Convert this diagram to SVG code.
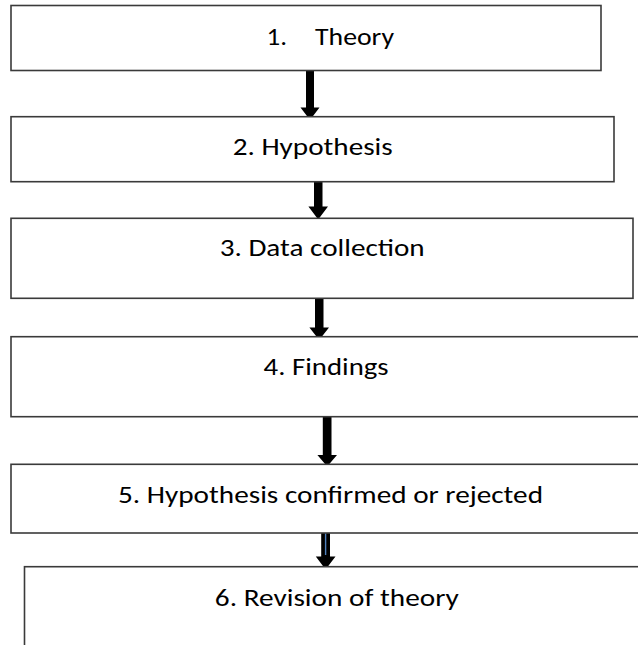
<svg xmlns="http://www.w3.org/2000/svg" width="638" height="645" viewBox="0 0 638 645">
  <style>
    .box { fill: #ffffff; stroke: #3a3a3a; stroke-width: 1.6; }
    .label { font-family: Carlito, Calibri, Lato, "Open Sans", sans-serif; font-size: 24px; fill: #000000; }
    .arrow { fill: #000000; }
    .glint { stroke: #4f81bd; stroke-width: 1.4; }
  </style>
  <rect width="638" height="645" fill="#ffffff"/>

  <!-- connectors: block arrows between the steps -->
  <g id="connectors">
    <polygon class="arrow" points="306,69 314,69 314,107.5 319.5,107.5 310,120 300.5,107.5 306,107.5"/>
    <polygon class="arrow" points="314,180 322.5,180 322.5,206.5 328,206.5 318.2,219.5 308.4,206.5 314,206.5"/>
    <polygon class="arrow" points="315,297 323.5,297 323.5,327.5 329,327.5 319.2,340 309.4,327.5 315,327.5"/>
    <polygon class="arrow" points="322.8,415 331.5,415 331.5,455 337,455 327.2,466.5 317.4,455 322.8,455"/>
    <polygon class="arrow" points="321.2,531 330,531 330,556.5 335.5,556.5 325.6,569.5 315.8,556.5 321.2,556.5"/>
    <line class="glint" x1="325.6" y1="533" x2="325.6" y2="555"/>
  </g>

  <g id="step1">
    <rect class="box" x="11" y="5.5" width="590" height="65"/>
    <text class="label" x="266.5" y="44.5" textLength="20.5" lengthAdjust="spacingAndGlyphs">1.</text>
    <text class="label" x="315" y="44.5" textLength="79" lengthAdjust="spacingAndGlyphs">Theory</text>
  </g>

  <g id="step2">
    <rect class="box" x="11" y="116.7" width="603" height="65"/>
    <text class="label" x="232.7" y="155" textLength="160" lengthAdjust="spacingAndGlyphs">2. Hypothesis</text>
  </g>

  <g id="step3">
    <rect class="box" x="11" y="218.3" width="622" height="80"/>
    <text class="label" x="219.7" y="256" textLength="205" lengthAdjust="spacingAndGlyphs">3. Data collection</text>
  </g>

  <g id="step4">
    <rect class="box" x="11" y="336.7" width="640" height="80"/>
    <text class="label" x="263.6" y="375" textLength="125" lengthAdjust="spacingAndGlyphs">4. Findings</text>
  </g>

  <g id="step5">
    <rect class="box" x="11" y="464.3" width="640" height="68.7"/>
    <text class="label" x="118" y="503" textLength="425" lengthAdjust="spacingAndGlyphs">5. Hypothesis confirmed or rejected</text>
  </g>

  <g id="step6">
    <rect class="box" x="24.5" y="566.7" width="630" height="100"/>
    <text class="label" x="214.8" y="606" textLength="244" lengthAdjust="spacingAndGlyphs">6. Revision of theory</text>
  </g>
</svg>
